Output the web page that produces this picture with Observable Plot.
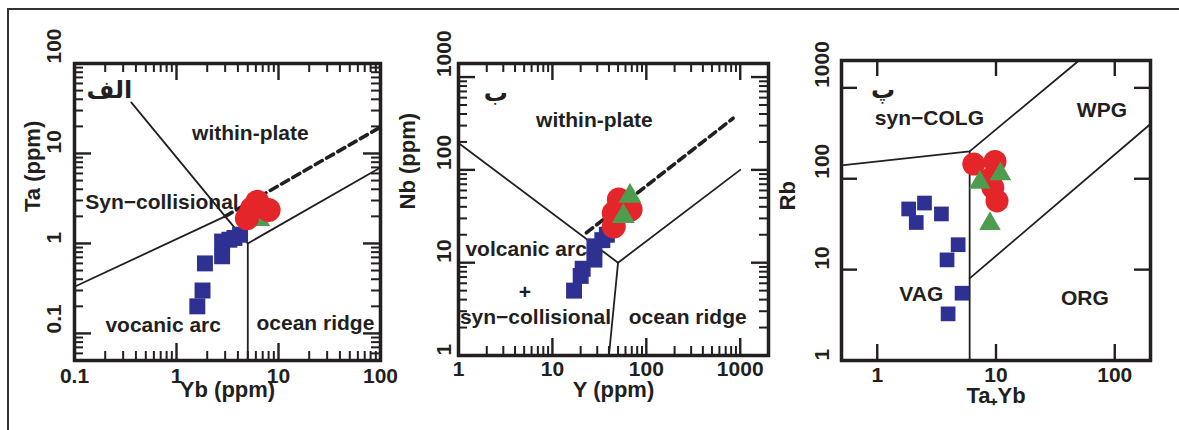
<!DOCTYPE html>
<html>
<head>
<meta charset="utf-8">
<script src="https://cdn.jsdelivr.net/npm/d3@7"></script>
<script src="https://cdn.jsdelivr.net/npm/@observablehq/plot@0.6"></script>
<style>
  html, body { margin: 0; padding: 0; background: #fff; }
  #fig { position: relative; width: 1179px; height: 430px; overflow: hidden; background: #fff; }
  #fig .outline { position: absolute; left: 7px; top: 8px; right: -10px; bottom: -10px;
                  border-top: 2.5px solid #333; border-left: 2.5px solid #333; }
  #fig svg { position: absolute; top: 0; }
</style>
</head>
<body>
<div id="fig"><div class="outline"></div></div>
<script>
// ---- (الف) Ta vs Yb ----
const ybBlue  = [1.6, 1.8, 1.9, 2.8, 2.8, 3.3, 3.7, 4.2];
const taBlue  = [0.2, 0.3, 0.6, 0.72, 1.05, 1.1, 1.15, 1.25];
const ybRed   = [4.9, 5.5, 6.2, 8.0];
const taRed   = [1.9, 2.45, 2.9, 2.35];
const ybGreen = [6.9, 6.4];
const taGreen = [2.7, 1.85];

// ---- (ب) Nb vs Y ----
const yBlue   = [17, 20, 21, 28, 28, 34, 38];
const nbBlue  = [5, 7.2, 8.6, 10.8, 15, 17.5, 20];
const yRed    = [45, 51, 68, 45];
const nbRed   = [24.5, 48, 37.5, 34];
const yGreen  = [67, 57];
const nbGreen = [52, 31.5];

// ---- (پ) Rb vs Ta+Yb ----
const tybBlue  = [1.84, 2.5, 2.13, 3.47, 4.8, 3.87, 5.18, 3.95];
const rbBlue   = [46.5, 54, 33, 41, 18.8, 12.8, 5.5, 3.26];
const tybRed   = [6.5, 9.8, 9.0, 9.4, 10.2];
const rbRed    = [145, 155, 100, 80, 57];
const tybGreen = [7.3, 10.9, 8.9];
const rbGreen  = [91, 113, 32];

// field boundaries (polylines in data units)
const taYbLines  = [[[0.36, 37], [3, 2], [5, 1]], [[0.1, 0.33], [3, 2]], [[5, 0.05], [5, 1], [100, 7]]];
const taYbDashed = [[3, 2], [95, 19]];
const nbYLines   = [[[1, 195], [50, 10], [1000, 100]], [[40, 1], [50, 10]]];
const nbYDashed  = [[23, 21], [840, 360]];
const rbLines    = [[[0.5, 140], [6, 200], [50, 2000]], [[6, 1], [6, 200]], [[6, 8], [200, 400]]];

// axis ticks
const ticksYbX = [0.1, 1, 10, 100];
const ticksTaY = [0.1, 1, 10, 100];
const ticksYX  = [1, 10, 100, 1000];
const ticksNbY = [1, 10, 100, 1000];
const ticksTybX = [1, 10, 100];
const ticksRbY  = [1, 10, 100, 1000];

// field names
const labelsA = [
  {text: "within-plate", x: 5.3, y: 16.7},
  {text: "Syn\u2212collisional", x: 0.72, y: 2.85},
  {text: "vocanic arc", x: 0.74, y: 0.123},
  {text: "ocean ridge", x: 23, y: 0.13}
];
const labelsB = [
  {text: "within-plate", x: 28, y: 340},
  {text: "volcanic arc", x: 5.25, y: 13.8},
  {text: "+", x: 5.1, y: 4.85},
  {text: "syn\u2212collisional", x: 6.6, y: 2.6},
  {text: "ocean ridge", x: 276, y: 2.6}
];
const labelsC = [
  {text: "syn\u2212COLG", x: 2.75, y: 468},
  {text: "WPG", x: 78, y: 560},
  {text: "VAG", x: 2.35, y: 5.3},
  {text: "ORG", x: 56, y: 4.8}
];

const ink = "#231f20";
const blue = "#2e3192", red = "#e4262b", green = "#4e9d4f";
const font = "'Liberation Sans', Arial, Helvetica, sans-serif";
const arabicFont = "'DejaVu Sans', 'Noto Sans', sans-serif";

const zip = (xs, ys) => xs.map((x, i) => [x, ys[i]]);
const fmt = d => d < 1 ? String(d) : d3.format("d")(d);

function minorTicks(domain) {
  const out = [];
  const lo = Math.floor(Math.log10(domain[0])), hi = Math.ceil(Math.log10(domain[1]));
  for (let e = lo; e < hi; e++) {
    for (let k = 2; k <= 9; k++) {
      const v = +(k * Math.pow(10, e)).toPrecision(6);
      if (v > domain[0] && v < domain[1]) out.push(v);
    }
  }
  return out;
}

// inward tick marks on all four sides, drawn as short rules; the pixel length
// is turned into a factor along each log axis
function tickRules(xs, ys, len, sw, xD, yD, fw, fh) {
  const fx = Math.pow(xD[1] / xD[0], len / fw);
  const fy = Math.pow(yD[1] / yD[0], len / fh);
  const st = {stroke: ink, strokeWidth: sw};
  return [
    Plot.ruleX(xs, {x: d => d, y1: yD[0], y2: yD[0] * fy, ...st}),
    Plot.ruleX(xs, {x: d => d, y1: yD[1] / fy, y2: yD[1], ...st}),
    Plot.ruleY(ys, {y: d => d, x1: xD[0], x2: xD[0] * fx, ...st}),
    Plot.ruleY(ys, {y: d => d, x1: xD[1] / fx, x2: xD[1], ...st})
  ];
}

function panel(o) {
  const fw = o.width - o.ml - o.mr, fh = 430 - o.mt - o.mb;
  const pt = d => ({x: d[0], y: d[1]});
  const lineMarks = o.lines.map(seg => Plot.line(seg.map(pt), {x: "x", y: "y", stroke: ink, strokeWidth: 1.8}));
  if (o.dashed) lineMarks.push(Plot.line(o.dashed.map(pt), {x: "x", y: "y", stroke: ink, strokeWidth: 3.6, strokeDasharray: "8,5"}));
  const sq = Plot.dot(o.blue, {x: d => d[0], y: d => d[1], symbol: "square", r: o.rSq, fill: blue, stroke: "none"});
  const ci = Plot.dot(o.red, {x: d => d[0], y: d => d[1], symbol: "circle", r: o.rCi, fill: red, stroke: "none"});
  const tr = Plot.dot(o.green, {x: d => d[0], y: d => d[1], symbol: "triangle", r: o.rTr, fill: green, stroke: "none"});
  const pts = o.greenFirst ? [sq, tr, ci] : [sq, ci, tr];
  const txt = {fill: ink, fontWeight: "bold", fontFamily: font};
  const majors = tickRules(o.xMajor, o.yMajor, o.majorLen, 2.4, o.xDomain, o.yDomain, fw, fh);
  const minors = o.minor ? tickRules(minorTicks(o.xDomain), minorTicks(o.yDomain), 9, 2, o.xDomain, o.yDomain, fw, fh) : [];
  const marks = [
    Plot.frame({stroke: ink, strokeWidth: 3.5}),
    ...majors,
    ...minors,
    ...lineMarks,
    ...pts,
    Plot.text(o.labels, {x: "x", y: "y", text: "text", fontSize: 21, ...txt}),
    Plot.text([o.letter], {x: () => o.letterAt[0], y: () => o.letterAt[1], text: d => d, fontSize: 24, fill: ink, fontWeight: "bold", fontFamily: arabicFont}),
    Plot.text(o.xMajor, {x: d => d, text: fmt, frameAnchor: "bottom", dy: o.xTickDy, fontSize: 21, ...txt}),
    Plot.text(o.yMajor, {y: d => d, text: fmt, frameAnchor: "left", dx: o.yTickDx, rotate: -90, fontSize: 21, ...txt}),
    Plot.text([o.xTitle], {text: d => d, frameAnchor: "bottom", dy: o.xTitleDy, fontSize: 22, ...txt}),
    Plot.text([o.yTitle], {text: d => d, frameAnchor: "left", dx: o.yTitleDx, rotate: -90, fontSize: 22, ...txt})
  ];
  const svg = Plot.plot({
    width: o.width, height: 430,
    marginLeft: o.ml, marginRight: o.mr, marginTop: o.mt, marginBottom: o.mb,
    x: {type: "log", domain: o.xDomain, axis: null},
    y: {type: "log", domain: o.yDomain, axis: null},
    style: {background: "transparent", overflow: "visible", fontFamily: font},
    marks
  });
  svg.style.left = o.left + "px";
  document.getElementById("fig").appendChild(svg);
}

panel({
  left: 0, width: 400, ml: 74, mr: 20, mt: 63, mb: 70,
  xDomain: [0.1, 100], yDomain: [0.05, 100],
  xMajor: ticksYbX, yMajor: ticksTaY, minor: true, majorLen: 17,
  lines: taYbLines, dashed: taYbDashed,
  blue: zip(ybBlue, taBlue), red: zip(ybRed, taRed), green: zip(ybGreen, taGreen), greenFirst: true,
  rSq: 9, rCi: 12, rTr: 8.5,
  labels: labelsA, letter: "الف", letterAt: [0.22, 50],
  xTitle: "Yb (ppm)", yTitle: "Ta (ppm)",
  xTickDy: 22, yTickDx: -20, xTitleDy: 36, yTitleDx: -42
});

panel({
  left: 400, width: 380, ml: 58, mr: 12, mt: 63, mb: 75,
  xDomain: [1, 2000], yDomain: [1, 1400],
  xMajor: ticksYX, yMajor: ticksNbY, minor: true, majorLen: 17,
  lines: nbYLines, dashed: nbYDashed,
  blue: zip(yBlue, nbBlue), red: zip(yRed, nbRed), green: zip(yGreen, nbGreen), greenFirst: false,
  rSq: 9, rCi: 12, rTr: 8.5,
  labels: labelsB, letter: "ب", letterAt: [2.5, 670],
  xTitle: "Y (ppm)", yTitle: "Nb (ppm)",
  xTickDy: 20, yTickDx: -14, xTitleDy: 41, yTitleDx: -51
});

panel({
  left: 780, width: 399, ml: 61, mr: 29, mt: 60, mb: 70,
  xDomain: [0.5, 200], yDomain: [1, 2000],
  xMajor: ticksTybX, yMajor: ticksRbY, minor: false, majorLen: 16,
  lines: rbLines, dashed: null,
  blue: zip(tybBlue, rbBlue), red: zip(tybRed, rbRed), green: zip(tybGreen, rbGreen), greenFirst: false,
  rSq: 8.3, rCi: 11.5, rTr: 8,
  labels: labelsC, letter: "پ", letterAt: [1.12, 930],
  xTitle: "Ta\u208AYb", yTitle: "Rb",
  xTickDy: 21, yTickDx: -19, xTitleDy: 42, yTitleDx: -54
});
</script>
</body>
</html>
